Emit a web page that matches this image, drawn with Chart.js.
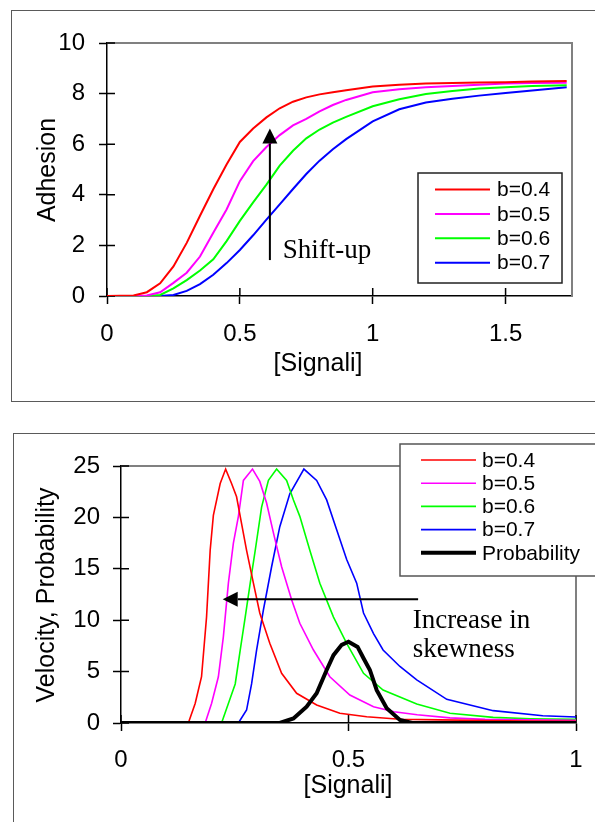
<!DOCTYPE html>
<html>
<head>
<meta charset="utf-8">
<script src="https://cdn.jsdelivr.net/npm/chart.js@4.4.1/dist/chart.umd.min.js"></script>
<style>
  html, body { margin: 0; padding: 0; background: #fff; }
  body { width: 595px; height: 822px; position: relative; overflow: hidden; }
  .frame { position: absolute; border: 1.5px solid #5a5a5a; box-sizing: border-box; }
  #frameTop { left: 11px; top: 10px; width: 620px; height: 392px; }
  #frameBottom { left: 13px; top: 433px; width: 620px; height: 420px; }
  canvas { position: absolute; left: 0; }
  #adhesionChart { top: 0; }
  #velocityChart { top: 410px; }
</style>
</head>
<body>
<div class="frame" id="frameTop"></div>
<div class="frame" id="frameBottom"></div>
<canvas id="adhesionChart" width="595" height="410"></canvas>
<canvas id="velocityChart" width="595" height="412"></canvas>
<script>
// Adhesion vs signal, one curve per b
const signalTop = [0, 0.1, 0.15, 0.2, 0.25, 0.3, 0.35, 0.4, 0.45, 0.5, 0.55, 0.6, 0.65, 0.7, 0.75, 0.8, 0.85, 0.9, 1.0, 1.1, 1.2, 1.3, 1.4, 1.5, 1.6, 1.73];
const adhesionB04 = [0, 0.02, 0.15, 0.5, 1.17, 2.1, 3.17, 4.22, 5.2, 6.09, 6.62, 7.06, 7.42, 7.68, 7.85, 7.97, 8.05, 8.13, 8.28, 8.35, 8.4, 8.42, 8.44, 8.45, 8.48, 8.5];
const adhesionB05 = [0, 0, 0.02, 0.15, 0.52, 0.92, 1.56, 2.5, 3.42, 4.54, 5.33, 5.89, 6.36, 6.74, 7.0, 7.3, 7.55, 7.75, 8.05, 8.17, 8.25, 8.3, 8.35, 8.4, 8.42, 8.43];
const adhesionB06 = [0, 0, 0, 0.04, 0.3, 0.63, 1.01, 1.45, 2.17, 2.97, 3.7, 4.4, 5.15, 5.74, 6.23, 6.58, 6.85, 7.08, 7.5, 7.78, 7.98, 8.1, 8.2, 8.25, 8.3, 8.33];
const adhesionB07 = [0, 0, 0, 0, 0.04, 0.2, 0.47, 0.84, 1.3, 1.82, 2.4, 3.02, 3.62, 4.23, 4.82, 5.35, 5.8, 6.2, 6.9, 7.38, 7.65, 7.8, 7.92, 8.02, 8.12, 8.25];

// Velocity curves and the signal probability
const velB04X = [0, 0.148, 0.163, 0.177, 0.188, 0.196, 0.203, 0.218, 0.23, 0.243, 0.254, 0.265, 0.276, 0.291, 0.305, 0.327, 0.353, 0.386, 0.43, 0.481, 0.54, 0.613, 0.7, 0.8, 0.9, 1.0];
const velB04Y = [0, 0, 1.9, 4.5, 10.3, 16.8, 20.2, 23.3, 24.7, 23.3, 22.0, 19.4, 16.8, 13.6, 10.7, 7.75, 4.83, 2.89, 1.75, 0.94, 0.61, 0.36, 0.3, 0.25, 0.2, 0.16];
const velB05X = [0, 0.185, 0.199, 0.214, 0.225, 0.236, 0.247, 0.258, 0.269, 0.289, 0.305, 0.32, 0.335, 0.353, 0.375, 0.393, 0.423, 0.459, 0.503, 0.555, 0.6, 0.651, 0.723, 0.8, 1.0];
const velB05Y = [0, 0, 1.9, 4.5, 8.4, 13.6, 17.5, 20.1, 23.6, 24.7, 23.5, 21.4, 18.5, 15.2, 12.0, 9.7, 7.1, 4.5, 2.72, 1.59, 1.1, 0.8, 0.5, 0.35, 0.26];
const velB06X = [0, 0.221, 0.236, 0.251, 0.262, 0.273, 0.284, 0.295, 0.309, 0.324, 0.342, 0.364, 0.379, 0.393, 0.415, 0.437, 0.467, 0.496, 0.533, 0.576, 0.65, 0.723, 0.818, 0.9, 1.0];
const velB06Y = [0, 0, 1.9, 3.8, 7.1, 10.3, 13.6, 16.8, 21.0, 23.6, 24.7, 23.6, 21.7, 20.1, 16.8, 13.6, 10.3, 7.75, 4.83, 3.2, 1.85, 0.95, 0.55, 0.42, 0.35];
const velB07X = [0, 0.258, 0.276, 0.287, 0.298, 0.313, 0.331, 0.349, 0.371, 0.402, 0.43, 0.452, 0.474, 0.496, 0.518, 0.533, 0.555, 0.576, 0.613, 0.65, 0.716, 0.818, 0.927, 1.0];
const velB07Y = [0, 0, 1.26, 3.8, 7.1, 11.0, 15.2, 19.1, 22.3, 24.7, 23.6, 21.7, 18.8, 15.9, 13.6, 10.7, 8.7, 7.1, 5.5, 4.2, 2.3, 1.2, 0.7, 0.58];
const probX = [0, 0.349, 0.379, 0.408, 0.43, 0.452, 0.467, 0.485, 0.5, 0.52, 0.533, 0.547, 0.562, 0.584, 0.613, 0.64, 1.0];
const probY = [0, 0, 0.45, 1.59, 2.89, 5.16, 6.6, 7.6, 7.9, 7.4, 6.3, 5.16, 3.2, 1.43, 0.29, 0, 0];

const seriesLabels = ['b=0.4', 'b=0.5', 'b=0.6', 'b=0.7'];
const seriesColors = ['#ff0000', '#ff00ff', '#00ff00', '#0000ff'];

const SANS = "'Liberation Sans', Arial, sans-serif";
const SERIF = "'Liberation Serif', 'Times New Roman', serif";

function points(xs, ys) {
  return xs.map((x, i) => ({ x: x, y: ys[i] }));
}

function lineSet(label, color, width, data, order) {
  return {
    label: label, data: data, borderColor: color, backgroundColor: color,
    borderWidth: width, pointRadius: 0, tension: 0, fill: false, order: order || 0
  };
}

// gray plot border on top/right plus inner half of the cross ticks
const plotFrame = {
  id: 'plotFrame',
  beforeDatasetsDraw(chart) {
    const { ctx, chartArea: a } = chart;
    const xs = chart.scales.x, ys = chart.scales.y;
    ctx.save();
    ctx.strokeStyle = '#808080';
    ctx.lineWidth = 2;
    ctx.beginPath();
    ctx.moveTo(a.left, a.top);
    ctx.lineTo(a.right, a.top);
    ctx.lineTo(a.right, a.bottom);
    ctx.stroke();
    ctx.strokeStyle = '#000';
    ctx.lineWidth = 1.5;
    ctx.beginPath();
    xs.ticks.forEach(t => {
      const px = xs.getPixelForValue(t.value);
      ctx.moveTo(px, a.bottom);
      ctx.lineTo(px, a.bottom - 8);
    });
    ys.ticks.forEach(t => {
      const py = ys.getPixelForValue(t.value);
      ctx.moveTo(a.left, py);
      ctx.lineTo(a.left + 8, py);
    });
    ctx.stroke();
    ctx.restore();
  }
};

const axisTitles = {
  id: 'axisTitles',
  afterDraw(chart, args, opts) {
    const ctx = chart.ctx;
    ctx.save();
    ctx.fillStyle = '#000';
    ctx.font = opts.size + 'px ' + SANS;
    ctx.textAlign = 'center';
    ctx.textBaseline = 'middle';
    ctx.fillText(opts.x.text, opts.x.cx, opts.x.cy);
    ctx.translate(opts.y.cx, opts.y.cy);
    ctx.rotate(-Math.PI / 2);
    ctx.fillText(opts.y.text, 0, 0);
    ctx.restore();
  }
};

// arrow with a note, placed in data units
const arrowNote = {
  id: 'arrowNote',
  afterDatasetsDraw(chart, args, opts) {
    const ctx = chart.ctx;
    const xs = chart.scales.x, ys = chart.scales.y;
    const x0 = xs.getPixelForValue(opts.from[0]), y0 = ys.getPixelForValue(opts.from[1]);
    const x1 = xs.getPixelForValue(opts.to[0]), y1 = ys.getPixelForValue(opts.to[1]);
    const ang = Math.atan2(y1 - y0, x1 - x0);
    const head = 15, half = 7.5;
    const bx = x1 - head * Math.cos(ang), by = y1 - head * Math.sin(ang);
    ctx.save();
    ctx.strokeStyle = '#000';
    ctx.fillStyle = '#000';
    ctx.lineWidth = 2;
    ctx.beginPath();
    ctx.moveTo(x0, y0);
    ctx.lineTo(bx, by);
    ctx.stroke();
    ctx.beginPath();
    ctx.moveTo(x1, y1);
    ctx.lineTo(bx + half * Math.sin(ang), by - half * Math.cos(ang));
    ctx.lineTo(bx - half * Math.sin(ang), by + half * Math.cos(ang));
    ctx.closePath();
    ctx.fill();
    ctx.font = opts.size + 'px ' + SERIF;
    ctx.textAlign = 'left';
    ctx.textBaseline = 'alphabetic';
    opts.lines.forEach((ln, i) => {
      ctx.fillText(ln, xs.getPixelForValue(opts.textAt[0]), ys.getPixelForValue(opts.textAt[1]) + i * opts.lineGap);
    });
    ctx.restore();
  }
};

// boxed legend drawn over the plot
const boxLegend = {
  id: 'boxLegend',
  afterDraw(chart, args, opts) {
    const ctx = chart.ctx;
    ctx.save();
    ctx.fillStyle = '#fff';
    ctx.fillRect(opts.left, opts.top, opts.width, opts.height);
    ctx.strokeStyle = opts.borderColor;
    ctx.lineWidth = 1.5;
    ctx.strokeRect(opts.left, opts.top, opts.width, opts.height);
    ctx.font = opts.size + 'px ' + SANS;
    ctx.textAlign = 'left';
    ctx.textBaseline = 'middle';
    chart.data.datasets.forEach((ds, i) => {
      const y = opts.firstRow + i * opts.rowGap;
      ctx.strokeStyle = ds.borderColor;
      ctx.lineWidth = ds.borderWidth;
      ctx.beginPath();
      ctx.moveTo(opts.lineStart, y);
      ctx.lineTo(opts.lineEnd, y);
      ctx.stroke();
      ctx.fillStyle = '#000';
      ctx.fillText(ds.label, opts.textX, y + 1);
    });
    ctx.restore();
  }
};

function axis(min, max, step, tickPad, fitFn) {
  return {
    type: 'linear', min: min, max: max,
    ticks: { stepSize: step, includeBounds: false, color: '#000', padding: tickPad, maxRotation: 0,
             font: { family: SANS, size: 24 },
             callback: v => String(Math.round(v * 100) / 100) },
    grid: { drawOnChartArea: false, tickLength: 8, tickColor: '#000', tickWidth: 1.5 },
    border: { color: '#000', width: 1.5 },
    afterFit: fitFn
  };
}

new Chart(document.getElementById('adhesionChart'), {
  type: 'line',
  data: {
    datasets: [
      lineSet(seriesLabels[0], seriesColors[0], 2, points(signalTop, adhesionB04)),
      lineSet(seriesLabels[1], seriesColors[1], 2, points(signalTop, adhesionB05)),
      lineSet(seriesLabels[2], seriesColors[2], 2, points(signalTop, adhesionB06)),
      lineSet(seriesLabels[3], seriesColors[3], 2, points(signalTop, adhesionB07))
    ]
  },
  options: {
    responsive: false, animation: false, devicePixelRatio: 1, events: [],
    layout: { padding: { left: 0, top: 43, right: 23, bottom: 0 } },
    scales: {
      x: axis(0, 1.75, 0.5, 16, s => { s.height = 114; s.paddingLeft = 0; s.paddingRight = 0; }),
      y: axis(0, 10, 2, 14, s => { s.width = 107; s.paddingTop = 0; s.paddingBottom = 0; })
    },
    plugins: {
      legend: { display: false },
      tooltip: { enabled: false },
      axisTitles: { size: 25, x: { text: '[Signali]', cx: 318, cy: 364 }, y: { text: 'Adhesion', cx: 48, cy: 170 } },
      arrowNote: { from: [0.613, 1.42], to: [0.613, 6.62], lines: ['Shift-up'], textAt: [0.661, 1.5], lineGap: 0, size: 27 },
      boxLegend: { left: 418, top: 173, width: 144, height: 110, borderColor: '#222', size: 21,
                   firstRow: 189.5, rowGap: 24.4, lineStart: 435, lineEnd: 490, textX: 497 }
    }
  },
  plugins: [plotFrame, arrowNote, axisTitles, boxLegend]
});

new Chart(document.getElementById('velocityChart'), {
  type: 'line',
  data: {
    datasets: [
      lineSet(seriesLabels[0], seriesColors[0], 1.6, points(velB04X, velB04Y)),
      lineSet(seriesLabels[1], seriesColors[1], 1.6, points(velB05X, velB05Y)),
      lineSet(seriesLabels[2], seriesColors[2], 1.6, points(velB06X, velB06Y)),
      lineSet(seriesLabels[3], seriesColors[3], 1.6, points(velB07X, velB07Y)),
      lineSet('Probability', '#000000', 4, points(probX, probY), -1)
    ]
  },
  options: {
    responsive: false, animation: false, devicePixelRatio: 1, events: [],
    layout: { padding: { left: 0, top: 56, right: 19, bottom: 0 } },
    scales: {
      x: axis(0, 1, 0.5, 15, s => { s.height = 99; s.paddingLeft = 0; s.paddingRight = 0; }),
      y: axis(0, 25, 5, 13, s => { s.width = 121; s.paddingTop = 0; s.paddingBottom = 0; })
    },
    plugins: {
      legend: { display: false },
      tooltip: { enabled: false },
      axisTitles: { size: 25, x: { text: '[Signali]', cx: 348, cy: 376 }, y: { text: 'Velocity, Probability', cx: 47, cy: 185 } },
      arrowNote: { from: [0.653, 12.03], to: [0.2235, 12.03], lines: ['Increase in', 'skewness'], textAt: [0.641, 9.24], lineGap: 29, size: 27 },
      boxLegend: { left: 400, top: 34, width: 210, height: 132, borderColor: '#555', size: 21,
                   firstRow: 50, rowGap: 23.2, lineStart: 421, lineEnd: 476, textX: 482 }
    }
  },
  plugins: [plotFrame, arrowNote, axisTitles, boxLegend]
});
</script>
</body>
</html>
